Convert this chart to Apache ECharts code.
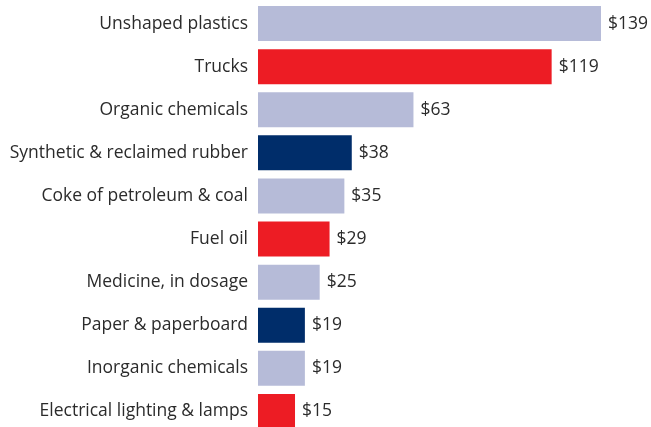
<!DOCTYPE html>
<html lang="en">
<head>
    <meta charset="UTF-8">
    <title>Exports</title>
    <script src="https://cdn.jsdelivr.net/npm/echarts@6/dist/echarts.min.js"></script>
    <style>
        html, body { margin: 0; background: #fff; overflow: hidden; }
    </style>
</head>
<body>
    <!-- a little taller than the window so the last bar runs off the bottom edge -->
    <div id="main" style="width:651px; height:433px;"></div>
    <script>
        // categories top to bottom
        var categories = ['Unshaped plastics', 'Trucks', 'Organic chemicals', 'Synthetic & reclaimed rubber',
            'Coke of petroleum & coal', 'Fuel oil', 'Medicine, in dosage', 'Paper & paperboard',
            'Inorganic chemicals', 'Electrical lighting & lamps'];
        var values = [139, 119, 63, 38, 35, 29, 25, 19, 19, 15];
        // colour group of each bar: 0 light, 1 red, 2 navy
        var groups = [0, 1, 0, 2, 0, 1, 0, 2, 0, 1];
        var palette = ['#b6bbd8', '#ed1c24', '#002d6a'];

        var myChart = echarts.init(document.getElementById('main'));
        var data = values.map(function (v, i) {
            return { value: v, itemStyle: { color: palette[groups[i]] } };
        });

        var option = {
            animation: false,
            grid: { left: 258, top: 2, width: 343, bottom: 0 },
            xAxis: {
                type: 'value', min: 0, max: 139, show: false
            },
            yAxis: {
                type: 'category',
                inverse: true,
                data: categories,
                axisLine: { show: false },
                axisTick: { show: false },
                axisLabel: {
                    margin: 10,
                    fontSize: 17.5,
                    color: '#2b2b2b',
                    fontFamily: 'Open Sans'
                }
            },
            series: [{
                type: 'bar',
                data: data,
                barWidth: 35,
                label: {
                    show: true,
                    position: 'right',
                    distance: 7,
                    fontSize: 17.5,
                    color: '#2b2b2b',
                    fontFamily: 'Open Sans',
                    formatter: function (p) { return '$' + p.value; }
                }
            }]
        };
        myChart.setOption(option);
    </script>
</body>
</html>
